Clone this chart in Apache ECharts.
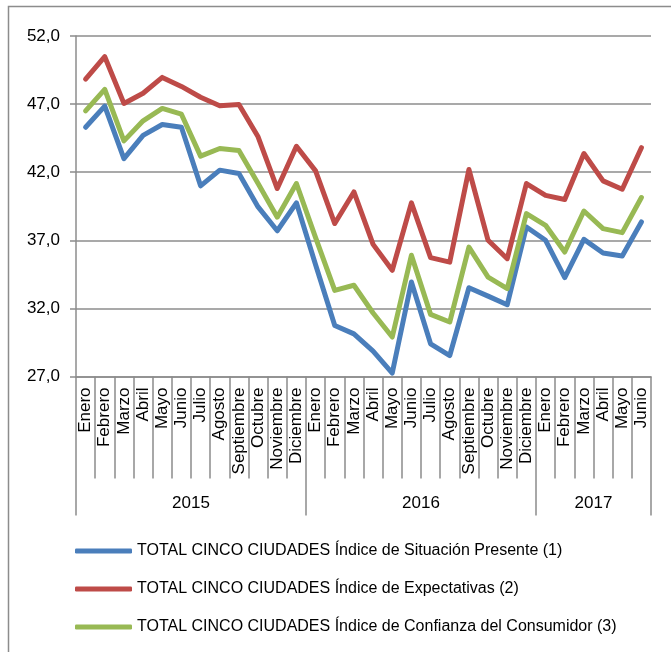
<!DOCTYPE html>
<html>
<head>
<meta charset="utf-8">
<script src="https://cdn.jsdelivr.net/npm/echarts@6/dist/echarts.min.js"></script>
<style>
  html, body { margin: 0; padding: 0; background: #fff; }
  #main { width: 671px; height: 652px; }
</style>
</head>
<body>
<div id="main"></div>
<script>
  // meses y años del eje
  const monthNames = ['Enero', 'Febrero', 'Marzo', 'Abril', 'Mayo', 'Junio', 'Julio', 'Agosto',
    'Septiembre', 'Octubre', 'Noviembre', 'Diciembre'];
  const years = ['2015', '2016', '2017'];
  const yearSpans = [12, 12, 6];

  // series
  const situacionPresente = [
    45.3, 46.85, 43.0, 44.7, 45.5, 45.3, 41.0, 42.15, 41.9, 39.45, 37.7, 39.75,
    35.2, 30.75, 30.13, 28.86, 27.25, 33.94, 29.4, 28.54, 33.52, 32.9, 32.27, 37.98,
    37.0, 34.26, 37.07, 36.07, 35.85, 38.35
  ];
  const expectativas = [
    48.84, 50.48, 47.05, 47.8, 48.96, 48.3, 47.5, 46.88, 46.97, 44.6, 40.8, 43.9,
    42.1, 38.23, 40.55, 36.7, 34.8, 39.75, 35.73, 35.4, 42.2, 37.0, 35.65, 41.17,
    40.3, 40.0, 43.37, 41.36, 40.75, 43.8
  ];
  const confianza = [
    46.5, 48.08, 44.3, 45.77, 46.68, 46.26, 43.18, 43.74, 43.6, 41.17, 38.7, 41.17,
    37.2, 33.32, 33.7, 31.66, 29.9, 35.9, 31.56, 31.0, 36.5, 34.3, 33.45, 38.96,
    38.1, 36.14, 39.15, 37.86, 37.56, 40.14
  ];

  const seriesNames = [
    'TOTAL CINCO CIUDADES Índice de Situación Presente (1)',
    'TOTAL CINCO CIUDADES Índice de Expectativas (2)',
    'TOTAL CINCO CIUDADES Índice de Confianza del Consumidor (3)'
  ];
  const colors = ['#4A7EBB', '#BE4B48', '#98B954'];

  // categorías: un mes por punto
  const categories = [];
  yearSpans.forEach(span => {
    for (let m = 0; m < span; m++) categories.push(monthNames[m]);
  });

  // eje de años: dos puntos por mes, sin boundaryGap
  const yearTicks = {};
  const yearLabels = {};
  let pos = 0;
  years.forEach((y, i) => {
    yearTicks[pos * 2] = true;
    yearLabels[pos * 2 + yearSpans[i]] = y;
    pos += yearSpans[i];
  });
  yearTicks[pos * 2] = true;
  const yearPoints = [];
  for (let k = 0; k <= pos * 2; k++) yearPoints.push(String(k));

  const gray = '#8c8c8c';
  const font = 'Liberation Sans';

  const chart = echarts.init(document.getElementById('main'));
  chart.setOption({
    animation: false,
    textStyle: { fontFamily: font },
    graphic: [{
      type: 'rect',
      shape: { x: 8.5, y: 6.5, width: 700, height: 700 },
      style: { fill: 'none', stroke: gray, lineWidth: 1.5 },
      silent: true
    }],
    grid: { left: 76, right: 20, top: 36, bottom: 275.5 },
    legend: {
      orient: 'vertical',
      left: 75,
      top: 542,
      padding: 0,
      icon: 'roundRect',
      itemWidth: 57,
      itemHeight: 5,
      itemGap: 20,
      textStyle: { fontSize: 16, color: '#000', fontFamily: font, lineHeight: 18 },
      data: seriesNames
    },
    xAxis: [{
      type: 'category',
      data: categories,
      axisLine: { show: true, lineStyle: { color: gray, width: 1.5 } },
      axisTick: { show: true, interval: 0, length: 102, lineStyle: { color: gray, width: 1.5 } },
      axisLabel: { interval: 0, rotate: 90, margin: 11, fontSize: 17, color: '#000', fontFamily: font }
    }, {
      type: 'category',
      position: 'bottom',
      offset: 102,
      boundaryGap: false,
      data: yearPoints,
      axisLine: { show: false },
      axisTick: {
        show: true,
        interval: idx => !!yearTicks[idx],
        length: 37,
        lineStyle: { color: gray, width: 1.5 }
      },
      axisLabel: {
        interval: idx => yearLabels[idx] !== undefined,
        formatter: (v, idx) => yearLabels[idx] || '',
        margin: 16,
        fontSize: 17,
        color: '#000',
        fontFamily: font
      }
    }],
    yAxis: {
      type: 'value',
      min: 27,
      max: 52,
      interval: 5,
      axisLine: { show: true, lineStyle: { color: gray, width: 1.5 } },
      axisTick: { show: true, length: 6, lineStyle: { color: gray, width: 1.5 } },
      splitLine: { lineStyle: { color: gray, width: 1.5 } },
      axisLabel: {
        margin: 16,
        fontSize: 17,
        color: '#000',
        fontFamily: font,
        formatter: v => v.toFixed(1).replace('.', ',')
      }
    },
    series: [situacionPresente, expectativas, confianza].map((d, i) => ({
      name: seriesNames[i],
      type: 'line',
      data: d,
      symbol: 'none',
      color: colors[i],
      lineStyle: { width: 5, color: colors[i], join: 'round', cap: 'round' }
    }))
  });
</script>
</body>
</html>
